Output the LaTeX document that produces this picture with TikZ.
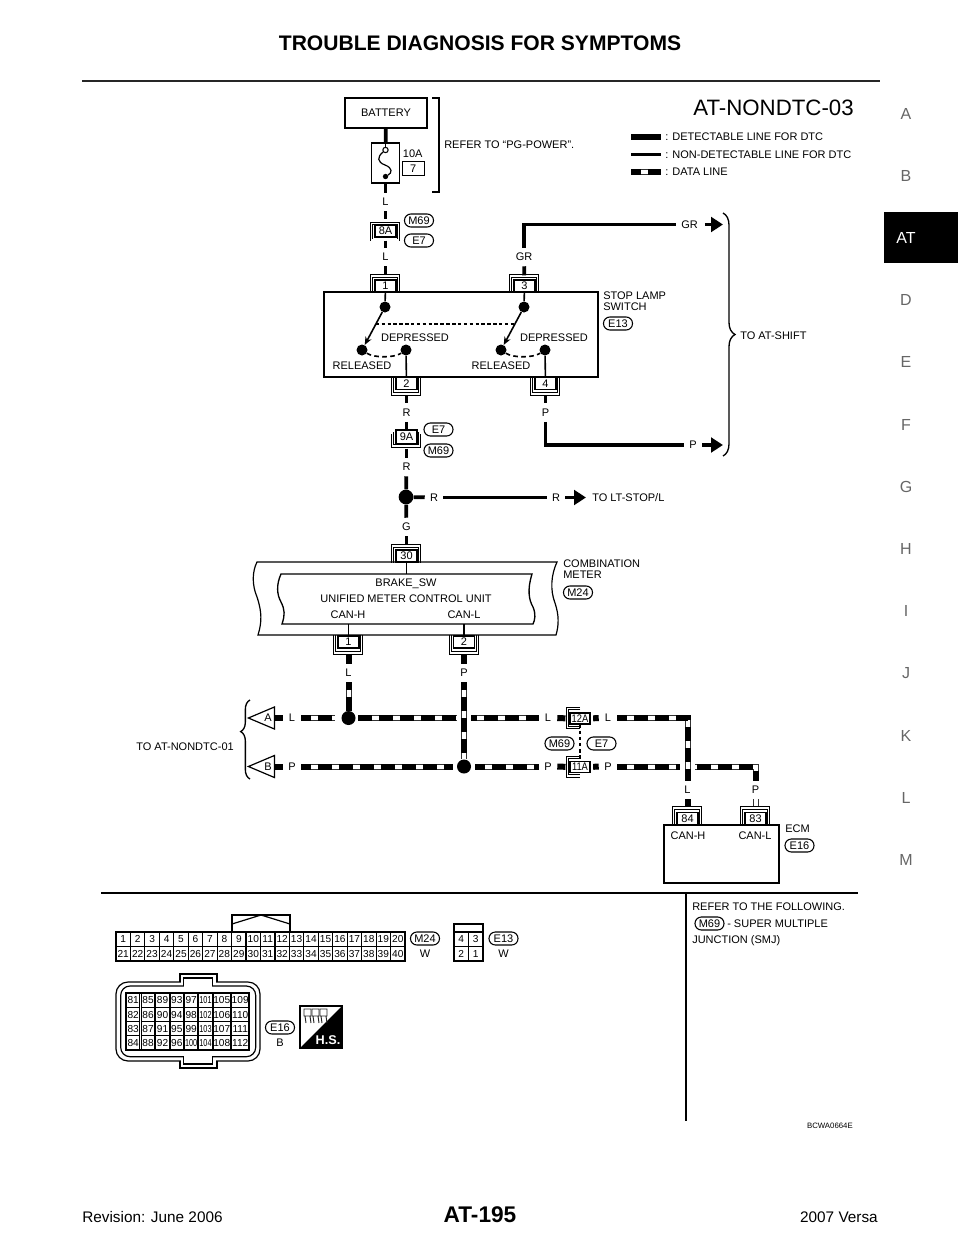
\documentclass[tikz,border=0pt]{standalone}
\usepackage{fontspec}
\setmainfont{Liberation Sans}
\usetikzlibrary{arrows.meta,calc,decorations.pathreplacing,shapes.geometric}
\begin{document}
\begin{tikzpicture}[x=0.75pt,y=-0.75pt,
    every node/.style={font=\fontsize{8.25}{8.3}\selectfont,inner sep=0pt},
    pinbox/.style={draw,fill=white,line width=0.8pt,minimum width=15.75pt,minimum height=9pt},
    gridcell/.style={draw,line width=0.8pt,minimum height=10.6pt,font=\fontsize{7.6}{8}\selectfont},
    pill/.style={draw,line width=0.8pt,rounded corners=4.8pt,minimum width=21.75pt,minimum height=9.75pt},
    wirelbl/.style={minimum width=13.5pt,minimum height=13.5pt},
    wire/.style={line width=2.8pt},
    thinwire/.style={line width=1.2pt},
    stub/.style={line width=4.5pt},
    bracket/.style={line width=0.7pt},
    contact/.style={circle,fill=black,minimum size=8.25pt},
    junction/.style={circle,fill=black,minimum size=11pt},
    dataline/.style={line width=4.5pt,dash pattern=on 10.5pt off 5.25pt,dash phase=3.5pt,
        preaction={draw=black!80,solid,line width=4.5pt},
        preaction={draw=white,solid,line width=3pt}},
    sideletter/.style={font=\fontsize{12}{12}\selectfont,text=black!60}]
    \useasboundingbox (0,0) rectangle (960,1242);
    % page frame
    \node[font=\bfseries\fontsize{15.8}{16}\selectfont] (title) at (480,43.5) {TROUBLE DIAGNOSIS FOR SYMPTOMS};
    \draw[line width=1.6pt,black!85] (82,81) -- (880,81);
    \foreach \letter/\ypos in {A/114,B/176,D/300,E/362,F/425,G/487,H/549,I/611,J/673,K/736,L/798,M/860}
        \node[sideletter] (side\letter) at (906,\ypos) {\letter};
    \fill (884,212) rectangle (958,263);
    \node[font=\fontsize{12}{12}\selectfont,text=white] (sideAT) at (906,238) {AT};
    \node[anchor=west,font=\fontsize{11.5}{12}\selectfont] (revision) at (82,1217) {Revision: June 2006};
    \node[font=\bfseries\fontsize{17}{17}\selectfont] (pageno) at (480,1215) {AT-195};
    \node[anchor=east,font=\fontsize{11.5}{12}\selectfont] (model) at (878,1217) {2007 Versa};
    % legend
    \node[anchor=east,font=\fontsize{16.7}{17}\selectfont] (figname) at (854,108) {AT-NONDTC-03};
    \node[anchor=west] (legA) at (665,137) {: DETECTABLE LINE FOR DTC};
    \node[anchor=west] (legB) at (665,154.5) {: NON-DETECTABLE LINE FOR DTC};
    \node[anchor=west] (legC) at (665,172) {: DATA LINE};
    \coordinate (legAs) at (631,137);
    \coordinate (legBs) at (631,154.5);
    \coordinate (legCs) at (631,172);
    \draw[stub,shorten >=3pt] (legAs) -- (legA.west);
    \draw[wire,shorten >=3pt] (legBs) -- (legB.west);
    \draw[dataline,dash phase=3pt,shorten >=3pt] (legCs) -- (legC.west);
    % battery and fuse
    \node[draw,line width=0.9pt,minimum width=61.5pt,minimum height=22.5pt] (battery) at (386,113) {BATTERY};
    \node[draw,line width=0.9pt,minimum width=21pt,minimum height=30pt] (fuse) at (385.5,163) {};
    \node[circle,draw,line width=0.8pt,minimum size=4pt] (fuseA) at (385.5,150) {};
    \node[circle,fill=black,minimum size=4pt] (fuseB) at (385.5,176.5) {};
    \draw[line width=0.9pt] (fuseA) .. controls (377,157) and (377,162) .. (385,165) .. controls (393,168) and (392,173) .. (fuseB);
    \draw[line width=0.9pt] (fuse.north) -- (fuseA);
    \node (amps) at (412.7,154) {10A};
    \node[pinbox,minimum width=16.5pt,minimum height=10.5pt] (fuseno) at (413.2,168.5) {7};
    \draw[bracket,line width=0.9pt] (432,98) -- (439,98) -- (439,192) -- (432,192);
    \node[anchor=west] (refpower) at (444,145) {REFER TO ``PG-POWER''.};
    \node[wirelbl] (lblLa) at (385.5,202) {L};
    \node[pinbox] (pin8A) at (385.5,231) {8A};
    \node[pill] (m69a) at (419,220.5) {M69};
    \node[pill] (e7a) at (419,240.5) {E7};
    \node[wirelbl] (lblLb) at (385.5,257) {L};
    \node[pinbox] (pin1) at (385.5,286) {1};
    \node[wirelbl] (lblGRa) at (524,257) {GR};
    \node[pinbox] (pin3) at (524.5,286) {3};
    \node[wirelbl] (lblGRb) at (689.5,224.5) {GR};
    \coordinate (arrGR) at (723,224.5);
    \draw[wire] (battery) -- (fuse);
    \draw[wire] (fuse) -- (lblLa);
    \draw[wire,shorten >=4pt] (lblLa) -- (pin8A);
    \draw[wire] (pin8A.south) ++(0,3) -- (lblLb.north);
    \draw[wire,shorten >=3pt] (lblLb) -- (pin1);
    \draw[wire,shorten >=3pt] (lblGRa) -- (pin3);
    \draw[wire,shorten >=3pt] (lblGRa.north) |- (lblGRb.west);
    \draw[wire,shorten <=4.5pt,-{Triangle[length=9pt,width=11pt]}] (lblGRb.east) -- (arrGR);
    % stop lamp switch
    \node[draw,line width=0.9pt,minimum width=205.5pt,minimum height=63.75pt] (swbox) at (461,334.5) {};
    \node[contact] (com1) at (385,307) {};
    \node[contact] (rel1) at (362,350) {};
    \node[contact] (dep1) at (406,350) {};
    \node[contact] (com2) at (524,307) {};
    \node[contact] (rel2) at (501,350) {};
    \node[contact] (dep2) at (545,350) {};
    \node (txtDep1) at (415,338) {DEPRESSED};
    \node (txtRel1) at (362,366) {RELEASED};
    \node (txtDep2) at (554,338) {DEPRESSED};
    \node (txtRel2) at (501,366) {RELEASED};
    \node[anchor=north west,align=left] (swname) at (603,291.5) {STOP LAMP\\SWITCH};
    \node[pill] (e13a) at (618,323.5) {E13};
    \node[pinbox] (pin2) at (406.5,383.5) {2};
    \node[pinbox] (pin4) at (545.5,383.5) {4};
    \draw[thinwire] (pin1) -- (com1);
    \draw[thinwire] (pin3) -- (com2);
    \draw[thinwire,-{Stealth[length=6pt,width=5pt]}] (com1) -- (rel1);
    \draw[thinwire,-{Stealth[length=6pt,width=5pt]}] (com2) -- (rel2);
    \draw[thinwire] (dep1) -- (pin2);
    \draw[thinwire] (dep2) -- (pin4);
    \draw[thinwire,dash pattern=on 3.5pt off 2.5pt] (rel1) .. controls +(12,8) and +(-12,8) .. (dep1);
    \draw[thinwire,dash pattern=on 3.5pt off 2.5pt] (rel2) .. controls +(12,8) and +(-12,8) .. (dep2);
    \coordinate (linkA) at ($(com1)!0.4!(rel1)$);
    \coordinate (linkB) at ($(com2)!0.4!(rel2)$);
    \draw[thinwire,dash pattern=on 2.6pt off 1.8pt] (linkA) -- (linkB);
    % below the switch
    \node[wirelbl] (lblRa) at (406.5,412.5) {R};
    \node[wirelbl] (lblPa) at (545.5,412.5) {P};
    \node[wirelbl] (lblPb) at (693,445) {P};
    \coordinate (arrP) at (723,445);
    \node[pinbox,minimum height=10.5pt] (pin9A) at (406.5,437) {9A};
    \node[pill] (e7b) at (438.5,429.5) {E7};
    \node[pill] (m69b) at (438.5,450.5) {M69};
    \node[wirelbl] (lblRb) at (406.5,467) {R};
    \node[junction] (jct) at (406,497) {};
    \node[wirelbl] (lblRc) at (434,497.5) {R};
    \node[wirelbl] (lblRd) at (556,497.5) {R};
    \node[anchor=west] (toLT) at (592,497.5) {TO LT-STOP/L};
    \coordinate (arrLT) at (586,497.5);
    \node[wirelbl] (lblG) at (406.5,527) {G};
    \draw[wire,shorten <=4pt] (pin2) -- (lblRa);
    \draw[wire,shorten <=4pt] (pin4) -- (lblPa);
    \draw[wire] (lblPa.south) |- (lblPb.west);
    \draw[wire,-{Triangle[length=9pt,width=11pt]}] (lblPb.east) -- (arrP);
    \draw[wire] (lblRa) -- (pin9A);
    \draw[wire,shorten <=3pt] (pin9A) -- (lblRb);
    \draw[wire] (lblRb) -- (jct);
    \draw[wire] (jct) -- (lblG);
    \draw[wire] (jct) -- (lblRc);
    \draw[wire] (lblRc) -- (lblRd);
    \draw[wire,-{Triangle[length=9pt,width=11pt]}] (lblRd.east) -- (arrLT);
    % braces
    \draw[line width=1pt,decorate,decoration={brace,amplitude=9pt,aspect=0.5}] (723,213) -- (723,456);
    \node[anchor=west] (toShift) at (740,335.5) {TO AT-SHIFT};
    % combination meter
    \node[pinbox] (pin30) at (406.5,556) {30};
    \draw[line width=0.9pt] (257,562) -- (557,562) .. controls (551,575) and (550,590) .. (555,603) .. controls (559,615) and (559,625) .. (556,635) -- (258,635) .. controls (262,622) and (262,612) .. (257,597) .. controls (252,585) and (252,572) .. cycle;
    \draw[line width=1pt] (281,574) -- (532,574) .. controls (527,590) and (529,600) .. (533,607) .. controls (536,614) and (535,620) .. (533,624) -- (282,624) .. controls (285,615) and (285,610) .. (281,602) .. controls (277,595) and (276,585) .. cycle;
    \node (brakesw) at (406,583.5) {BRAKE\_SW};
    \node (umcu) at (406,598.5) {UNIFIED METER CONTROL UNIT};
    \node (canHa) at (348,615) {CAN-H};
    \node (canLa) at (464,615) {CAN-L};
    \node[anchor=north west,align=left] (metername) at (563,559.5) {COMBINATION\\METER};
    \node[pill] (m24a) at (578,592.5) {M24};
    \node[pinbox] (pinM1) at (348.5,642) {1};
    \node[pinbox] (pinM2) at (464,642) {2};
    \coordinate (umcuTop) at (406.5,574);
    \coordinate (umcuL) at (348.5,624);
    \coordinate (umcuR) at (464,624);
    \draw[wire,shorten >=3.5pt] (lblG) -- (pin30);
    \draw[thinwire] (pin30) -- (umcuTop);
    \draw[thinwire] (umcuL) -- (pinM1);
    \draw[thinwire] (umcuR) -- (pinM2);
    \node[wirelbl] (lblLc) at (348.5,673) {L};
    \node[wirelbl] (lblPc) at (464,673) {P};
    \draw[stub,shorten <=4pt] (pinM1) -- (lblLc);
    \draw[stub,shorten <=4pt] (pinM2) -- (lblPc);
    % data lines
    \node[isosceles triangle,isosceles triangle stretches,shape border rotate=180,draw,line width=0.9pt,minimum width=16.5pt,minimum height=19.5pt,anchor=east] (tagA) at (275,718) {};
    \node[isosceles triangle,isosceles triangle stretches,shape border rotate=180,draw,line width=0.9pt,minimum width=16.5pt,minimum height=19.5pt,anchor=east] (tagB) at (275,766.5) {};
    \node (txtA) at (268,718) {A};
    \node (txtB) at (268,766.5) {B};
    \node[wirelbl] (lblLd) at (292,718) {L};
    \node[wirelbl] (lblPd) at (292,766.5) {P};
    \node[wirelbl] (lblLe) at (548,718) {L};
    \node[wirelbl] (lblPe) at (548,766.5) {P};
    \node[wirelbl] (lblLf) at (608,718) {L};
    \node[wirelbl] (lblPf) at (608,766.5) {P};
    \node[junction,minimum size=10.5pt] (jctL) at (348.5,718) {};
    \node[junction,minimum size=10.5pt] (jctP) at (464,766.5) {};
    \node[pinbox,minimum width=15pt,minimum height=8.25pt] (pin12A) at (580,718.5) {\scalebox{0.85}[1]{12A}};
    \node[pinbox,minimum width=15pt,minimum height=8.25pt] (pin11A) at (580,767) {\scalebox{0.85}[1]{11A}};
    \node[pill] (m69c) at (559.5,743.5) {M69};
    \node[pill] (e7c) at (601.5,743.5) {E7};
    \node[wirelbl] (lblLg) at (687.5,790) {L};
    \node[wirelbl] (lblPg) at (755.5,790) {P};
    \draw[stub] (tagA.east) -- (lblLd);
    \draw[stub] (tagB.east) -- (lblPd);
    \draw[dataline,shorten >=5pt] (lblLd) -- (jctL);
    \draw[dataline,dash phase=0pt,shorten <=2pt] (jctL) -- (lblLe);
    \draw[dataline,shorten >=3pt] (lblPd) -- (jctP);
    \draw[dataline,shorten <=3pt] (jctP) -- (lblPe);
    \draw[stub,shorten >=3pt] (lblLe) -- (pin12A);
    \draw[stub,shorten >=3pt] (lblPe) -- (pin11A);
    \draw[stub,shorten <=2pt] (pin12A) -- (lblLf);
    \draw[stub,shorten <=2pt] (pin11A) -- (lblPf);
    \draw[dataline,dash phase=4.5pt] (lblLc) -- (jctL);
    \draw[preaction={draw=white,solid,line width=11pt},dataline,dash phase=4.5pt] (lblPc) -- (jctP);
    \draw[dataline] (lblPf) -| (lblPg.north);
    \draw[preaction={draw=white,solid,line width=11pt},dataline] (lblLf) -| (lblLg.north);
    \draw[line width=1.2pt,dash pattern=on 2.6pt off 2pt] (pin12A) -- (pin11A);
    \foreach \pinname in {pin12A,pin11A} {
        \draw[bracket] (\pinname.north) ++(0,-5) -- ++(-14,0) -- ++(0,21) -- ++(14,0);
        \draw[bracket] (\pinname.north) ++(0,-2.8) -- ++(-11.6,0) -- ++(0,16.6) -- ++(11.6,0);
    }
    \draw[line width=1pt,decorate,decoration={brace,amplitude=7pt,aspect=0.6}] (250,779) -- (250,700);
    \node[anchor=east] (toNondtc) at (234,746.5) {TO AT-NONDTC-01};
    % ECM
    \node[draw,line width=0.9pt,minimum width=86.25pt,minimum height=43.5pt] (ecm) at (721.5,854) {};
    \node[pinbox] (pin84) at (687.5,818.5) {84};
    \node[pinbox] (pin83) at (755.5,818.5) {83};
    \node (canHb) at (688,836) {CAN-H};
    \node (canLb) at (755,836) {CAN-L};
    \node[anchor=west] (ecmname) at (785,829) {ECM};
    \node[pill] (e16a) at (799.5,845.5) {E16};
    \draw[stub,shorten >=4pt] (lblLg) -- (pin84);
    \draw[dataline,dash phase=10.5pt,shorten >=4pt] (lblPg) -- (pin83);
    % connector brackets
    \foreach \pinname in {pin1,pin3,pin30,pin84,pin83} {
        \draw[bracket] (\pinname.south west) ++(-4,0) -- ++(0,-18.5) -- ++(29,0) -- ++(0,18.5);
        \draw[bracket] (\pinname.south west) ++(-2,0) -- ++(0,-15.5) -- ++(25,0) -- ++(0,15.5);
    }
    \foreach \pinname in {pin2,pin4,pinM1,pinM2} {
        \draw[bracket] (\pinname.north west) ++(-4,0) -- ++(0,18.5) -- ++(29,0) -- ++(0,-18.5);
        \draw[bracket] (\pinname.north west) ++(-2,0) -- ++(0,15.5) -- ++(25,0) -- ++(0,-15.5);
    }
    \draw[bracket] (pin8A.south west) ++(-4,3) -- ++(0,-18.5) -- ++(29,0) -- ++(0,18.5);
    \draw[bracket] (pin8A.south west) ++(-2,1) -- ++(0,-14.5) -- ++(25,0) -- ++(0,14.5);
    \draw[bracket] (pin9A.north west) ++(-4,5) -- ++(0,13) -- ++(29,0) -- ++(0,-13);
    \draw[bracket] (pin9A.north west) ++(-2,3) -- ++(0,12) -- ++(25,0) -- ++(0,-12);
    % lower part of the page
    \draw[line width=1.2pt] (101,893) -- (858,893);
    \draw[line width=1.2pt] (686,893) -- (686,1121);
    \node[anchor=west] (refer) at (692,907) {REFER TO THE FOLLOWING.};
    \node[pill] (m69d) at (709.5,923.5) {M69};
    \node[anchor=west] (smj) at (727,924) {- SUPER MULTIPLE};
    \node[anchor=west] (smjb) at (692,941) {JUNCTION (SMJ)};
    \node[anchor=east,font=\fontsize{5.85}{6}\selectfont] (partno) at (853,1125.5) {BCWA0664E};
    % connector M24
    \foreach \n [evaluate=\n as \cx using 116+14.45*(\n-0.5), evaluate=\n as \m using int(\n+20)] in {1,...,20} {
        \node[gridcell,minimum width=10.8pt] (mt\n) at (\cx,939.2) {\n};
        \node[gridcell,minimum width=10.8pt] (mb\n) at (\cx,953.6) {\m};
    }
    \draw[line width=0.9pt] (116,932) rectangle (405,961);
    \draw[line width=0.9pt] (232,932) -- (232,915) -- (290,915) -- (290,932);
    \draw[line width=0.9pt] (232,924) -- (261,915) -- (290,924);
    \node[pill] (m24b) at (425,938.5) {M24};
    \node (m24col) at (425,954) {W};
    % connector E13
    \draw[line width=0.9pt] (454,924) rectangle (483,961);
    \foreach \n/\cx/\cy in {4/461.2/939.2,3/475.8/939.2,2/461.2/953.6,1/475.8/953.6}
        \node[gridcell,minimum width=10.8pt] (sw\n) at (\cx,\cy) {\n};
    \draw[line width=0.9pt] (454,932) -- (483,932);
    \node[pill] (e13b) at (503.5,938.5) {E13};
    \node (e13col) at (503.5,954) {W};
    % connector E16
    \draw[line width=0.9pt,rounded corners=9pt] (116,982) rectangle (260,1061);
    \draw[line width=0.9pt,rounded corners=7pt] (120.7,986) rectangle (255.7,1056.7);
    \fill[white] (180.7,980) rectangle (216.3,984);
    \fill[white] (183.7,984) rectangle (212,988);
    \fill[white] (180.7,1059) rectangle (216.3,1063);
    \fill[white] (183.7,1055) rectangle (212,1059);
    \draw[line width=0.9pt] (180,982) -- (180,974) -- (217,974) -- (217,982);
    \draw[line width=0.9pt] (183.3,986) -- (183.3,978) -- (212.3,978) -- (212.3,986);
    \draw[line width=0.9pt] (180,1061) -- (180,1068) -- (217,1068) -- (217,1061);
    \draw[line width=0.9pt] (183.3,1056.7) -- (183.3,1064) -- (212.3,1064) -- (212.3,1056.7);
    \draw[line width=1.4pt] (126,993.3) rectangle (249.3,1050);
    \foreach \col/\cx/\cw in {0/133.2/14.4,1/148/14.4,2/162.5/14.4,3/176.8/14.4,4/191.2/14.4,5/205.5/14.4,6/221.8/18.4,7/240.2/18.4}
        \foreach \row in {0,...,3} {
            \pgfmathtruncatemacro\num{81+4*\col+\row}
            \node[gridcell,minimum width={(\cw-1)*0.75pt}] (e\num) at (\cx,1000.4+14.2*\row)
                {\ifnum\num>99 \ifnum\num<105 \scalebox{0.72}[1]{\num}\else\num\fi\else\num\fi};
        }
    \node[pill] (e16b) at (280,1027.5) {E16};
    \node (e16col) at (280,1043) {B};
    % harness symbol
    \node[draw,line width=1pt,minimum size=31.5pt] (hsbox) at (321,1027) {};
    \fill (hsbox.south west) -- (hsbox.north east) -- (hsbox.south east) -- cycle;
    \foreach \dx in {0,8,16}
        \draw[line width=0.7pt,black!85] (304+\dx,1009) rectangle ++(7,7) (305+\dx,1016) -- ++(1,7) (310+\dx,1016) -- ++(1,7);
    \node[font=\bfseries\fontsize{9.5}{10}\selectfont,text=white] (hstext) at (328,1040) {H.S.};
\end{tikzpicture}
\end{document}
